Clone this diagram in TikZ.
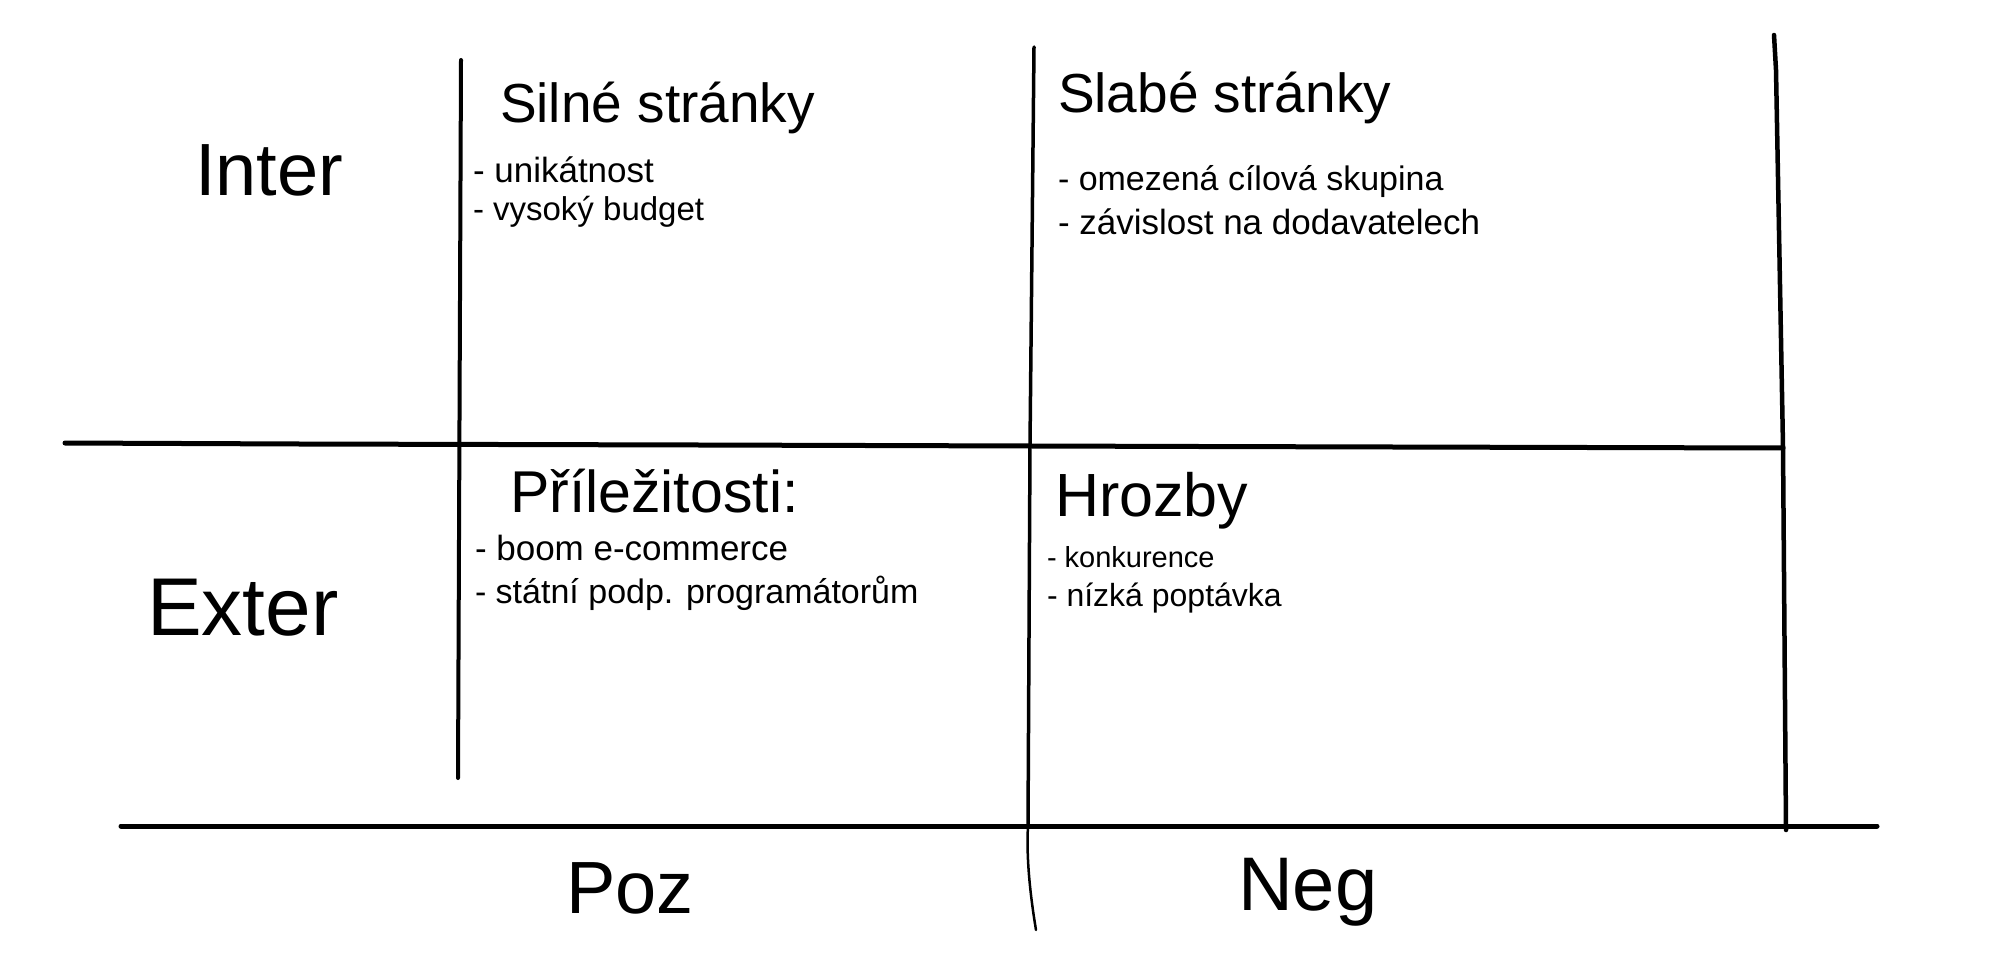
\documentclass[tikz,border=0pt]{standalone}
\usepackage{fontspec}
\setmainfont{Liberation Sans}
\begin{document}
\begin{tikzpicture}[x=1pt,y=-1pt,
  pen/.style={line width=#1,line cap=round,line join=round,black},
  pen/.default=4.5pt,
  txt/.style={anchor=base west,inner sep=0pt,outer sep=0pt,text=black},
  fs/.style={font=\fontsize{#1}{#1}\selectfont}]
% canvas
\fill[white] (0,0) rectangle (1992,966);
\useasboundingbox (0,0) rectangle (1992,966);

% grid anchor points
\coordinate (hmL) at (65,443);
\coordinate (hmR) at (1783,448);
\coordinate (hbL) at (121,826);
\coordinate (hbR) at (1877,826);
\coordinate (vlT) at (461,60);
\coordinate (vlB) at (458,778);
\coordinate (vmT) at (1034,47);
\coordinate (vmM) at (1028,826);
\coordinate (vmB) at (1036,930);
\coordinate (vrT) at (1774,35);
\coordinate (vrB) at (1786,830);

% horizontal strokes
\draw[pen=5pt] (hmL) -- (300,444) -- (700,445) -- (1200,446.5) -- (hmR);
\draw[pen=5pt] (hbL) -- (hbR);
% vertical strokes
\draw[pen=4pt] (vlT) -- (vlB);
\draw[pen=3.5pt] (vmT) -- (1030,445) -- (vmM);
\draw[pen=2.5pt] (vmM) .. controls (1026,860) and (1031,900) .. (vmB);
\draw[pen=4.5pt] (vrT) -- (1776,70) -- (1783,447) -- (vrB);

% axis labels
\node[txt,fs=74] (lblInter) at (195,195) {Inter};
\node[txt,fs=82] (lblExter) at (147,635) {Exter};
\node[txt,fs=74] (lblPoz) at (566,913) {Poz};
\node[txt,fs=76] (lblNeg) at (1238,910) {Neg};

% strengths
\node[txt,fs=55] (hS) at (500,122) {Silné stránky};
\node[txt,fs=35] (s1) at (473,182) {- unikátnost};
\node[txt,fs=33] (s2) at (473,220) {- vysoký budget};

% weaknesses
\node[txt,fs=55] (hW) at (1058,112) {Slabé stránky};
\node[txt,fs=34] (w1) at (1058,190) {- omezená cílová skupina};
\node[txt,fs=35] (w2) at (1058,234) {- závislost na dodavatelech};

% opportunities
\node[txt,fs=59] (hO) at (510,512) {Příležitosti:};
\node[txt,fs=35] (o1) at (475,560) {- boom e-commerce};
\node[txt,fs=34] (o2) at (475,603) {- státní podp. programátorům};

% threats
\node[txt,fs=61] (hT) at (1055,516) {Hrozby};
\node[txt,fs=29] (t1) at (1047,567) {- konkurence};
\node[txt,fs=32] (t2) at (1047,606) {- nízká poptávka};
\end{tikzpicture}
\end{document}
